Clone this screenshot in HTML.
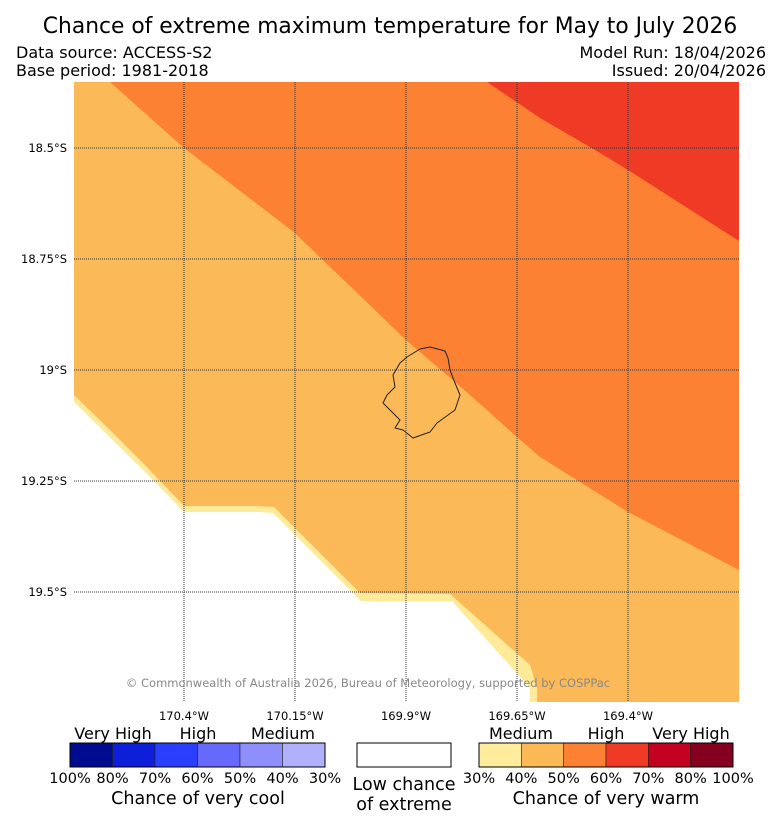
<!DOCTYPE html>
<html><head><meta charset="utf-8"><style>
body{margin:0;background:#fff;width:781px;height:827px;overflow:hidden;font-family:"DejaVu Sans","Liberation Sans",sans-serif;}
svg{display:block}
</style></head><body>
<svg id="chart" width="781" height="827" viewBox="0 0 781 827">
<text x="390" y="33" text-anchor="middle" font-size="21.8" fill="#000">Chance of extreme maximum temperature for May to July 2026</text>
<text x="16" y="58" font-size="16">Data source: ACCESS-S2</text>
<text x="16" y="76" font-size="16">Base period: 1981-2018</text>
<text x="766" y="58" font-size="16" text-anchor="end">Model Run: 18/04/2026</text>
<text x="766" y="76" font-size="16" text-anchor="end">Issued: 20/04/2026</text>
<defs><clipPath id="mc"><rect x="74" y="82" width="665" height="620"/></clipPath></defs>
<g clip-path="url(#mc)">
<rect x="74" y="82" width="665" height="620" fill="#fbba57"/>
<polygon points="110,82 184,148 295,233 300,238 406,340 470,395 517,437 540,457 628,512 739,570 739,82" fill="#fd8133"/>
<polygon points="487,82 540,118 595,150 628,170 739,241 739,82" fill="#ef3b26"/>
<polygon points="74,395 110,430 145,465 184,506 255,506 274,507 360,593 450,594 530,665 537,688 537,702 74,702" fill="#ffea9a"/>
<polygon points="74,402 145,472 184,512 258,512 273,513 361,601 452,601 530,688 530,702 74,702" fill="#fff"/>
</g>
<g id="grid"></g>
<path d="M407,357 L420,349 L430,347 L445,351 L448,358 L450,370 L455,383 L460,395 L455,410 L437,423 L430,432 L413,438 L403,430 L395,428 L400,420 L383,403 L387,395 L395,387 L393,375 L400,363 Z" fill="none" stroke="#222" stroke-width="1" stroke-linejoin="round"/>
<text x="368" y="687" text-anchor="middle" font-size="11.5" fill="#888">© Commonwealth of Australia 2026, Bureau of Meteorology, supported by COSPPac</text>
<g id="ticks"></g>
<g id="legend"></g>
<rect x="357" y="743" width="94" height="24" fill="#fff" stroke="#000" stroke-width="1"/>
<text x="404" y="790" text-anchor="middle" font-size="17.5">Low chance</text>
<text x="404" y="810" text-anchor="middle" font-size="17.5">of extreme</text>
<text x="198" y="804" text-anchor="middle" font-size="17.5">Chance of very cool</text>
<text x="606" y="804" text-anchor="middle" font-size="17.5">Chance of very warm</text>
<text x="113" y="739" text-anchor="middle" font-size="16">Very High</text>
<text x="198" y="739" text-anchor="middle" font-size="16">High</text>
<text x="283" y="739" text-anchor="middle" font-size="16">Medium</text>
<text x="521" y="739" text-anchor="middle" font-size="16">Medium</text>
<text x="606" y="739" text-anchor="middle" font-size="16">High</text>
<text x="691" y="739" text-anchor="middle" font-size="16">Very High</text>
</svg>
<script>
const lonLabels=["170.4°W","170.15°W","169.9°W","169.65°W","169.4°W"];
const lonValues=[-170.4,-170.15,-169.9,-169.65,-169.4];
const latLabels=["18.5°S","18.75°S","19°S","19.25°S","19.5°S"];
const latValues=[-18.5,-18.75,-19.0,-19.25,-19.5];
const coolColors=["#000c8f","#0d1fd8","#2a3ffd","#6769fd","#8e8ffd","#b0b0fd"];
const coolLabels=["100%","80%","70%","60%","50%","40%","30%"];
const warmColors=["#ffec9c","#fcba57","#fd8133","#ef3b26","#c2001f","#85001f"];
const warmLabels=["30%","40%","50%","60%","70%","80%","100%"];
const NS="http://www.w3.org/2000/svg";
const xS=v=>184+(v+170.4)/0.25*111;
const yS=v=>148+(-18.5-v)/0.25*111;
function mk(tag,at,parent){const e=document.createElementNS(NS,tag);for(const k in at)e.setAttribute(k,at[k]);parent.appendChild(e);return e;}
const grid=document.getElementById('grid'),ticks=document.getElementById('ticks'),leg=document.getElementById('legend');
lonValues.forEach((v,i)=>{
 const l=mk('line',{x1:xS(v),x2:xS(v),y1:82,y2:702,stroke:'#333','stroke-width':1,'stroke-dasharray':'1,1'},grid);
 
 
 const t=mk('text',{x:xS(v),y:720,'text-anchor':'middle','font-size':11.5},ticks);t.textContent=lonLabels[i];
 
 
});
latValues.forEach((v,i)=>{
 const l=mk('line',{x1:74,x2:739,y1:yS(v),y2:yS(v),stroke:'#333','stroke-width':1,'stroke-dasharray':'1,1'},grid);
 
 
 const t=mk('text',{x:67,y:yS(v)+4,'text-anchor':'end','font-size':11.5},ticks);t.textContent=latLabels[i];
 
 
});
function bar(x0,x1,cols,labs,nm){
 const w=(x1-x0)/cols.length;
 cols.forEach((c,i)=>{const r=mk('rect',{x:x0+i*w,y:743,width:w,height:24,fill:c,stroke:'#222','stroke-width':0.6},leg);
  
  });
 mk('rect',{x:x0,y:743,width:x1-x0,height:24,fill:'none',stroke:'#000','stroke-width':1},leg);
 labs.forEach((s,i)=>{const t=mk('text',{x:x0+i*w,y:783,'text-anchor':'middle','font-size':14.5},leg);t.textContent=s;
  
  });
}
bar(70,325,coolColors,coolLabels,'cool-legend');
bar(479,733,warmColors,warmLabels,'warm-legend');
</script>
</body></html>
